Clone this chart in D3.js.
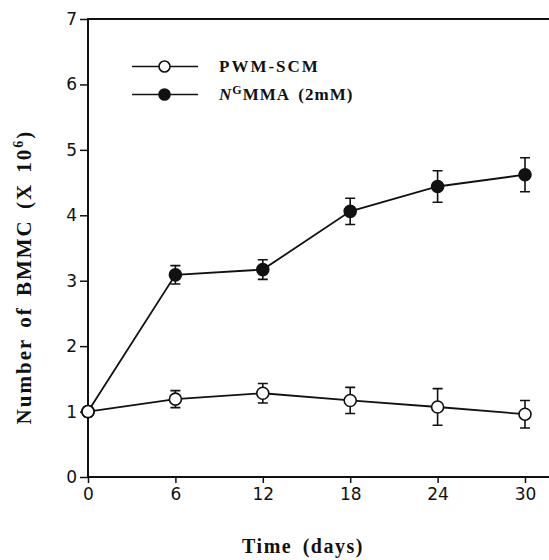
<!DOCTYPE html>
<html>
<head>
<meta charset="utf-8">
<script src="https://cdn.jsdelivr.net/npm/d3@7"></script>
<style>
  body { margin: 0; background: #fff; }
  svg { display: block; }
  .tick text { font-family: "DejaVu Sans", sans-serif; font-size: 17px; fill: #111; }
  .lbl { font-family: "Liberation Serif", serif; font-weight: bold; fill: #111; }
</style>
</head>
<body>
<svg id="chart" width="549" height="560"></svg>
<script>
/* data */
const days = [0, 6, 12, 18, 24, 30];
const pwmScm = [1.0, 1.19, 1.28, 1.17, 1.07, 0.96];
const pwmScmErr = [0, 0.13, 0.15, 0.2, 0.28, 0.21];
const ngmma = [1.0, 3.09, 3.17, 4.06, 4.44, 4.62];
const ngmmaErr = [0, 0.14, 0.15, 0.2, 0.24, 0.26];
const yTicks = [0, 1, 2, 3, 4, 5, 6, 7];

const svg = d3.select('#chart');
const width = 549;
const margin = {left: 88, top: 19, bottom: 477};

const x = d3.scaleLinear().domain([0, 30]).range([88, 525]);
const y = d3.scaleLinear().domain([0, 7]).range([477, 19]);

/* axes */
const xAxis = d3.axisBottom(x).tickValues(days).tickSize(6).tickPadding(5).tickFormat(d3.format('d'));
const yAxis = d3.axisLeft(y).tickValues(yTicks).tickSize(8).tickPadding(3).tickFormat(d3.format('d'));

svg.append('g').attr('transform', `translate(0,${margin.bottom})`).call(xAxis)
  .call(g => g.select('.domain').remove());
svg.append('g').attr('transform', `translate(${margin.left},0)`).call(yAxis)
  .call(g => g.select('.domain').remove());
svg.selectAll('.tick line').attr('stroke', '#111').attr('stroke-width', 1.5);

/* frame: left, bottom, top (figure is cut on the right) */
svg.append('path')
  .attr('d', `M${width},${margin.top}H${margin.left}V${margin.bottom}H${width}`)
  .attr('fill', 'none').attr('stroke', '#111').attr('stroke-width', 2);

const series = [
  {vals: pwmScm, err: pwmScmErr, fill: '#fff'},
  {vals: ngmma, err: ngmmaErr, fill: '#111'}
];

const line = d3.line().x((d, i) => x(days[i])).y(d => y(d));

series.forEach(s => {
  const g = svg.append('g');
  g.append('path').attr('d', line(s.vals))
    .attr('fill', 'none').attr('stroke', '#111').attr('stroke-width', 1.8);
  // error bars
  s.vals.forEach((v, i) => {
    if (!s.err[i]) return;
    const cx = x(days[i]);
    const y0 = y(v - s.err[i]), y1 = y(v + s.err[i]);
    g.append('path')
      .attr('d', `M${cx},${y0}V${y1}M${cx - 5},${y0}H${cx + 5}M${cx - 5},${y1}H${cx + 5}`)
      .attr('stroke', '#111').attr('stroke-width', 1.6).attr('fill', 'none');
  });
  g.selectAll('circle').data(s.vals).join('circle')
    .attr('cx', (d, i) => x(days[i])).attr('cy', d => y(d)).attr('r', 6)
    .attr('fill', s.fill).attr('stroke', '#111').attr('stroke-width', 1.6);
});
// first point is shared, drawn open on top
svg.append('circle').attr('cx', x(0)).attr('cy', y(pwmScm[0])).attr('r', 6)
  .attr('fill', '#fff').attr('stroke', '#111').attr('stroke-width', 1.6);

/* legend */
const legend = svg.append('g');
[66.5, 94.5].forEach((ly, i) => {
  legend.append('line').attr('x1', 132).attr('x2', 198).attr('y1', ly).attr('y2', ly)
    .attr('stroke', '#111').attr('stroke-width', 1.6);
  legend.append('circle').attr('cx', 164.5).attr('cy', ly).attr('r', 5.5)
    .attr('fill', series[i].fill).attr('stroke', '#111').attr('stroke-width', 1.6);
});
legend.append('text').attr('class', 'lbl').attr('x', 219).attr('y', 72)
  .attr('font-size', 17).attr('letter-spacing', 2).text('PWM-SCM');
const t2 = legend.append('text').attr('class', 'lbl').attr('x', 219).attr('y', 100)
  .attr('font-size', 17).attr('letter-spacing', 1).attr('word-spacing', 4);
t2.append('tspan').attr('font-style', 'italic').text('N');
t2.append('tspan').attr('font-size', 12).attr('dy', -6).text('G');
t2.append('tspan').attr('dy', 6).text('MMA (2mM)');

/* axis titles */
svg.append('text').attr('class', 'lbl').attr('x', 303).attr('y', 553)
  .attr('text-anchor', 'middle').attr('font-size', 20).attr('letter-spacing', 1.5)
  .attr('word-spacing', 4).text('Time (days)');

const yl = svg.append('text').attr('class', 'lbl')
  .attr('transform', 'translate(31,277) rotate(-90)')
  .attr('text-anchor', 'middle').attr('font-size', 21).attr('letter-spacing', 2)
  .attr('word-spacing', 3);
yl.append('tspan').text('Number of BMMC (X 10');
yl.append('tspan').attr('font-size', 14).attr('dy', -8).text('6');
yl.append('tspan').attr('dy', 8).text(')');
</script>
</body>
</html>
